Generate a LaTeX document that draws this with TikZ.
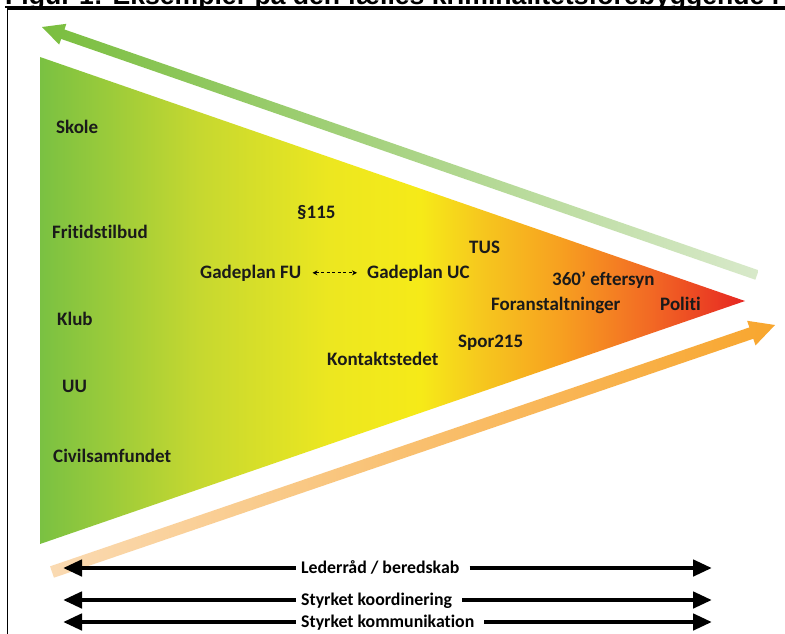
\documentclass[tikz,border=0pt]{standalone}
\usepackage{fontspec}
\setmainfont{Carlito}[Ligatures=NoCommon]
\newfontfamily\titlefont{Liberation Sans}
\usetikzlibrary{arrows.meta}

\definecolor{tgreen}{RGB}{122,193,66}
\definecolor{tygreen}{RGB}{198,216,48}
\definecolor{tyellowA}{RGB}{236,231,32}
\definecolor{tyellow}{RGB}{246,234,24}
\definecolor{tyorange}{RGB}{246,200,30}
\definecolor{torange}{RGB}{247,160,32}
\definecolor{tdorange}{RGB}{242,105,36}
\definecolor{tred}{RGB}{230,38,34}
\definecolor{garrowA}{RGB}{122,190,62}
\definecolor{garrowB}{RGB}{216,233,202}
\definecolor{oarrowA}{RGB}{250,218,178}
\definecolor{oarrowB}{RGB}{248,166,46}
\definecolor{labeltext}{RGB}{26,26,26}

\pgfdeclarehorizontalshading{trishade}{100bp}{%
  color(0bp)=(tgreen); color(25bp)=(tgreen); color(36.3bp)=(tygreen);
  color(45.5bp)=(tyellowA); color(52bp)=(tyellow); color(56.2bp)=(tyorange);
  color(61.9bp)=(torange); color(68.3bp)=(tdorange); color(75bp)=(tred);
  color(100bp)=(tred)}

\begin{document}
\begin{tikzpicture}[x=1pt,y=-1pt,
  lbl/.style={font=\bfseries\fontsize{19}{19}\selectfont, inner sep=0pt,
    anchor=base west, text=labeltext},
  blab/.style={font=\bfseries\fontsize{17.8}{17.8}\selectfont, inner sep=0pt,
    anchor=base west, text=black},
  barrowL/.style={line width=4.5pt, {Triangle[length=19pt,width=16pt]}-},
  barrowR/.style={line width=4.5pt, -{Triangle[length=19pt,width=16pt]}},
  dasharrow/.style={line width=1.1pt, dash pattern=on 3pt off 2.5pt,
    {Stealth[length=5pt,width=5pt]}-{Stealth[length=5pt,width=5pt]}}]
\useasboundingbox (0,0) rectangle (785,633);
\clip (0,0) rectangle (785,633);
\fill[white] (0,0) rectangle (785,633);

% title (clipped at the top)
\node[anchor=base west, inner sep=0pt,
  font=\titlefont\bfseries\fontsize{26.6}{26.6}\selectfont] (title) at (5,4)
  {Figur 1: Eksempler på den fælles kriminalitetsforebyggende i};
\draw[line width=1.8pt] ([yshift=-2.6pt]title.base west) -- ++(785,0);

% frame
\draw[line width=1.4pt] (7.5,645) -- (7.5,8.8) -- (795,8.8);

% triangle
\shade[shading=trishade] (40,57) -- (745,301) -- (40,544) -- cycle;

% green arrow (top, pointing left)
\shade[left color=garrowA, right color=garrowB]
  (42,27) -- (66.39,23.82) -- (64.43,29.49) -- (758.64,270.28)
  -- (755.36,279.72) -- (61.15,38.93) -- (59.19,44.60) -- cycle;

% orange arrow (bottom, pointing right)
\shade[left color=oarrowA, right color=oarrowB]
  (775,325) -- (747.14,320.78) -- (749.40,327.40) -- (50.06,566.32)
  -- (53.94,577.68) -- (753.28,338.76) -- (755.54,345.38) -- cycle;

% labels
\node[lbl] (skole) at (56,133) {Skole};
\node[lbl] (frit) at (52,238) {Fritidstilbud};
\node[lbl] (klub) at (57,325) {Klub};
\node[lbl] (uu) at (62,392) {UU};
\node[lbl] (civil) at (53,462) {Civilsamfundet};
\node[lbl] (p115) at (297,218) {§115};
\node[lbl] (tus) at (469,253) {TUS};
\node[lbl] (gfu) at (200,278) {Gadeplan FU};
\node[lbl] (guc) at (367,278) {Gadeplan UC};
\node[lbl] (e360) at (552,285) {360’ eftersyn};
\node[lbl] (foran) at (491,310) {Foranstaltninger};
\node[lbl] (politi) at (660,310) {Politi};
\node[lbl] (spor) at (458,347) {Spor215};
\node[lbl] (kontakt) at (327,365) {Kontaktstedet};

\draw[dasharrow] ([xshift=11pt]gfu.east) -- ([xshift=-10pt]guc.west);

% bottom arrows
\coordinate (l1) at (63,568); \coordinate (r1) at (712,568);
\coordinate (l2) at (63,600); \coordinate (r2) at (712,600);
\coordinate (l3) at (63,622); \coordinate (r3) at (712,622);
\node[blab] (t1) at (301,573.6) {Lederråd / beredskab};
\node[blab] (t2) at (301,605.6) {Styrket koordinering};
\node[blab] (t3) at (301,627.6) {Styrket kommunikation};

\draw[barrowL] (l1) -- ([xshift=-5pt]l1 -| t1.west);
\draw[barrowR] ([xshift=10pt]r1 -| t1.east) -- (r1);
\draw[barrowL] (l2) -- ([xshift=-5pt]l2 -| t2.west);
\draw[barrowR] ([xshift=10pt]r2 -| t2.east) -- (r2);
\draw[barrowL] (l3) -- ([xshift=-5pt]l3 -| t3.west);
\draw[barrowR] ([xshift=10pt]r3 -| t3.east) -- (r3);
\end{tikzpicture}
\end{document}
